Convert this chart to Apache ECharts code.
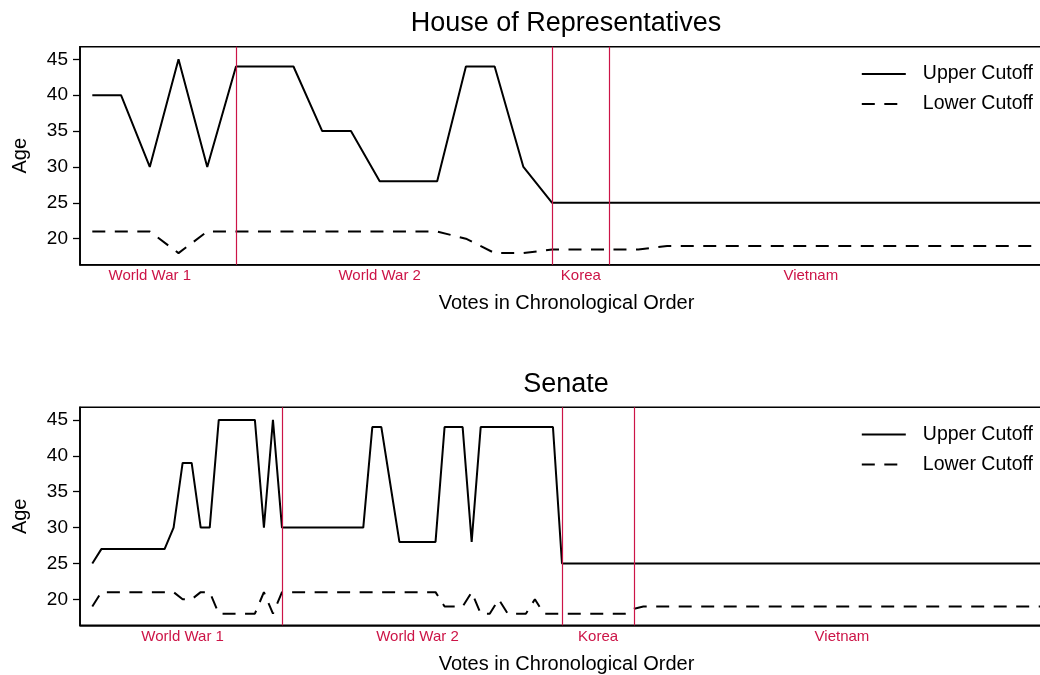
<!DOCTYPE html>
<html>
<head>
<meta charset="utf-8">
<script src="https://cdn.jsdelivr.net/npm/echarts@6/dist/echarts.min.js"></script>
<style>
  html, body { margin: 0; padding: 0; background: #fff; }
  #container { width: 1040px; height: 675px; }
</style>
</head>
<body>
<div id="container"></div>
<script>
  // vote index along the x axis is just the position in each array
  let houseUpper = [40, 40, 30, 45, 30, 44, 44, 44, 35, 35, 28, 28, 28, 44, 44, 30, 25,
    25, 25, 25, 25, 25, 25, 25, 25, 25, 25, 25, 25, 25, 25, 25, 25, 25];
  let houseLower = [21, 21, 21, 18, 21, 21, 21, 21, 21, 21, 21, 21, 21, 20, 18, 18, 18.5,
    18.5, 18.5, 18.5, 19, 19, 19, 19, 19, 19, 19, 19, 19, 19, 19, 19, 19, 19];

  let senateUpper = [25, 27, 27, 27, 27, 27, 27, 27, 27, 30, 39, 39, 30, 30, 45, 45, 45, 45, 45, 30,
    45, 30, 30, 30, 30, 30, 30, 30, 30, 30, 30, 44, 44, 36, 28, 28, 28, 28, 28, 44,
    44, 44, 28, 44, 44, 44, 44, 44, 44, 44, 44, 44, 25, 25, 25, 25, 25, 25, 25, 25,
    25, 25, 25, 25, 25, 25, 25, 25, 25, 25, 25, 25, 25, 25, 25, 25, 25, 25, 25, 25,
    25, 25, 25, 25, 25, 25, 25, 25, 25, 25, 25, 25, 25, 25, 25, 25, 25, 25, 25, 25,
    25, 25, 25, 25, 25, 25];
  let senateLower = [19, 21, 21, 21, 21, 21, 21, 21, 21, 21, 20, 20, 21, 21, 18, 18, 18, 18, 18, 21,
    18, 21, 21, 21, 21, 21, 21, 21, 21, 21, 21, 21, 21, 21, 21, 21, 21, 21, 21, 19,
    19, 19, 21, 18, 18, 20, 18, 18, 18, 20, 18, 18, 18, 18, 18, 18, 18, 18, 18, 18,
    18.7, 19, 19, 19, 19, 19, 19, 19, 19, 19, 19, 19, 19, 19, 19, 19, 19, 19, 19, 19,
    19, 19, 19, 19, 19, 19, 19, 19, 19, 19, 19, 19, 19, 19, 19, 19, 19, 19, 19, 19,
    19, 19, 19, 19, 19, 19];

  // war periods: divider lines and label positions (vote index)
  let warNames = ['World War 1', 'World War 2', 'Korea', 'Vietnam'];
  let houseWarLines = [5, 16, 18];
  let houseWarLabels = [2, 10, 17, 25];
  let senateWarLines = [21, 52, 60];
  let senateWarLabels = [10, 36, 56, 83];

  let ageTicks = [20, 25, 30, 35, 40, 45];

  let red = '#cc1447';
  let font = '"Liberation Sans", Helvetica, Arial, sans-serif';

  function pairs(arr) {
    return arr.map((v, i) => [i, v]);
  }

  function xAxisFor(gridIndex, n, labelPos) {
    let pad = n > 50 ? 1.362 : 0.428;
    return {
      gridIndex: gridIndex,
      type: 'value',
      min: -pad,
      max: n - 1 + pad,
      name: 'Votes in Chronological Order',
      nameLocation: 'middle',
      nameGap: 29,
      nameTextStyle: {color: '#000', fontSize: 20, fontFamily: font},
      axisLine: {show: true, onZero: false, lineStyle: {color: '#000', width: 1.6}},
      axisTick: {show: false},
      splitLine: {show: false},
      axisLabel: {
        customValues: labelPos,
        color: red,
        fontSize: 15,
        fontFamily: font,
        margin: 4,
        formatter: function (v) {
          let k = labelPos.indexOf(Math.round(v));
          return k >= 0 ? warNames[k] : '';
        }
      }
    };
  }

  function yAxisFor(gridIndex) {
    return {
      gridIndex: gridIndex,
      type: 'value',
      min: 16.38,
      max: 46.76,
      name: 'Age',
      nameLocation: 'middle',
      nameGap: 50,
      nameTextStyle: {color: '#000', fontSize: 20, fontFamily: font},
      axisLine: {show: true, onZero: false, lineStyle: {color: '#000', width: 1.6}},
      axisTick: {show: true, customValues: ageTicks, length: 7, lineStyle: {color: '#000', width: 1.3}},
      splitLine: {show: false},
      axisLabel: {customValues: ageTicks, color: '#000', fontSize: 19, fontFamily: font, margin: 12}
    };
  }

  function warLines(arr) {
    return {
      silent: true,
      symbol: ['none', 'none'],
      label: {show: false},
      lineStyle: {type: 'solid', color: red, width: 1.2},
      data: arr.map(v => ({xAxis: v}))
    };
  }

  function seriesFor(idx, upper, lower, lines) {
    return [{
      name: 'Upper Cutoff',
      type: 'line',
      xAxisIndex: idx,
      yAxisIndex: idx,
      symbol: 'none',
      lineStyle: {color: '#000', width: 2, type: 'solid'},
      itemStyle: {color: '#000'},
      data: pairs(upper),
      markLine: warLines(lines),
      z: 3
    }, {
      name: 'Lower Cutoff',
      type: 'line',
      xAxisIndex: idx,
      yAxisIndex: idx,
      symbol: 'none',
      lineStyle: {color: '#000', width: 2, type: [13, 9.5]},
      itemStyle: {color: '#000'},
      data: pairs(lower),
      z: 3
    }];
  }

  function legendFor(top) {
    return {
      orient: 'vertical',
      right: 2,
      top: top,
      itemWidth: 44,
      itemHeight: 14,
      itemGap: 10,
      itemStyle: {opacity: 0},
      textStyle: {color: '#000', fontSize: 19.5, fontFamily: font, padding: [0, 0, 0, 12]},
      data: ['Upper Cutoff', 'Lower Cutoff']
    };
  }

  let dom = document.getElementById('container');
  let myChart = echarts.init(dom);

  // plot box runs a little past the right edge of the picture, as in the original
  let gridBase = {
    left: 80, width: 973, height: 218, show: true,
    borderColor: '#000', borderWidth: 1.6, backgroundColor: 'transparent',
    outerBoundsMode: 'none', containLabel: false
  };

  let option = {
    animation: false,
    textStyle: {fontFamily: font},
    graphic: [
      {type: 'text', x: 566, y: 24, style: {text: 'House of Representatives', fill: '#000', font: '27px ' + font, textAlign: 'center', textVerticalAlign: 'middle'}},
      {type: 'text', x: 566, y: 385, style: {text: 'Senate', fill: '#000', font: '27px ' + font, textAlign: 'center', textVerticalAlign: 'middle'}}
    ],
    legend: [legendFor(59), legendFor(419.6)],
    grid: [
      Object.assign({top: 46.7}, gridBase),
      Object.assign({top: 407.3}, gridBase)
    ],
    xAxis: [
      xAxisFor(0, houseUpper.length, houseWarLabels),
      xAxisFor(1, senateUpper.length, senateWarLabels)
    ],
    yAxis: [yAxisFor(0), yAxisFor(1)],
    series: seriesFor(0, houseUpper, houseLower, houseWarLines)
      .concat(seriesFor(1, senateUpper, senateLower, senateWarLines))
  };

  myChart.setOption(option, true);
</script>
</body>
</html>
